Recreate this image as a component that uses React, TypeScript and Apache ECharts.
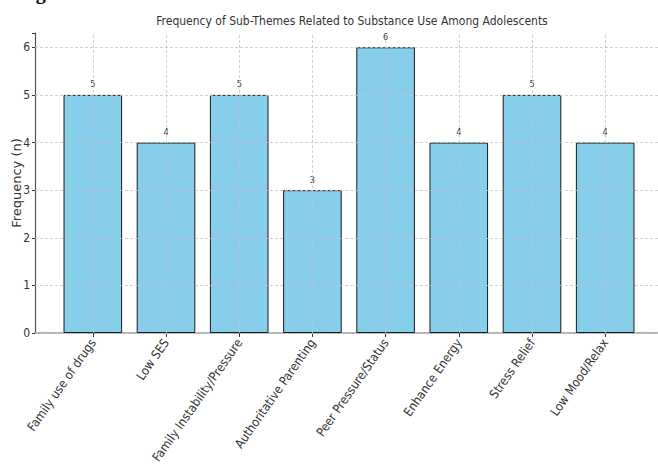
import React, { useEffect, useRef } from "react";
import * as echarts from "echarts";

const categories = [
  "Family use of drugs",
  "Low SES",
  "Family Instability/Pressure",
  "Authoritative Parenting",
  "Peer Pressure/Status",
  "Enhance Energy",
  "Stress Relief",
  "Low Mood/Relax",
];
const frequencies = [5, 4, 5, 3, 6, 4, 5, 4];
const yTicks = [0, 1, 2, 3, 4, 5, 6];
const titleText = "Frequency of Sub-Themes Related to Substance Use Among Adolescents";
const yAxisTitle = "Frequency (n)";
const captionText = "Figure";

const FONT = "'DejaVu Sans Condensed', 'Liberation Sans Narrow', 'DejaVu Sans', sans-serif";

export default function App() {
  const ref = useRef<HTMLDivElement>(null);
  useEffect(() => {
    document.body.style.margin = "0";
    if (!ref.current) return;
    const chart = echarts.init(ref.current, null, { renderer: "svg" });
    const gridStyle = { color: "#c4c4c4", width: 0.8, type: [3, 2] as any };
    chart.setOption({
      animation: false,
      backgroundColor: "#ffffff",
      textStyle: { fontFamily: FONT },
      title: {
        text: titleText,
        left: 347,
        textAlign: "center",
        top: 10,
        textStyle: { fontFamily: FONT, fontSize: 12, fontWeight: "normal", color: "#333" },
      },
      graphic: [
        {
          type: "text",
          left: 18,
          top: -18,
          style: { text: captionText, font: "bold 20px 'Liberation Serif', serif", fill: "#000" },
        },
      ],
      grid: { left: 35, right: -5, top: 33, bottom: 131, containLabel: false, outerBoundsMode: "none" },
      xAxis: {
        type: "value",
        min: -0.79,
        max: 7.79,
        axisLine: { show: true, onZero: false, lineStyle: { color: "#9a9a9a", width: 1.5 } },
        axisTick: { show: true, customValues: categories.map((_, i) => i), length: 4, lineStyle: { color: "#333" } },
        axisLabel: {
          show: true,
          customValues: categories.map((_, i) => i),
          formatter: (v: number) => categories[Math.round(v)] ?? "",
          rotate: 55,
          margin: 7,
          fontSize: 12.5,
          color: "#333",
          fontFamily: FONT,
        },
        splitLine: { show: false },
      },
      yAxis: {
        type: "value",
        min: 0,
        max: 6.3,
        interval: 1,
        name: yAxisTitle,
        nameLocation: "middle",
        nameGap: 12,
        nameMoveOverlap: false,
        nameTextStyle: { fontSize: 13, color: "#333", fontFamily: "'DejaVu Sans', sans-serif" },
        axisLine: { show: true, onZero: false, lineStyle: { color: "#555", width: 1.2 } },
        axisTick: { show: true, length: 3, lineStyle: { color: "#333" } },
        axisLabel: {
          fontSize: 12,
          color: "#333",
          margin: 5,
          fontFamily: FONT,
          formatter: (v: number) => (yTicks.includes(v) ? String(v) : ""),
        },
        splitLine: { show: false },
      },
      series: [
        {
          type: "bar",
          data: frequencies.map((v, i) => [i, v]),
          barWidth: 58.6,
          itemStyle: { color: "#87ceeb", borderColor: "#1a1a1a", borderWidth: 1 },
          label: {
            show: true,
            position: "top",
            distance: 6,
            fontSize: 9,
            color: "#333",
            fontFamily: FONT,
          },
          markLine: {
            silent: true,
            symbol: "none",
            label: { show: false },
            lineStyle: gridStyle,
            data: [
              ...yTicks.map((v) => ({ yAxis: v })),
              ...categories.map((_, i) => ({ xAxis: i })),
            ],
          },
        },
      ],
    });
    return () => chart.dispose();
  }, []);
  return <div ref={ref} style={{ width: 658, height: 464 }} />;
}
